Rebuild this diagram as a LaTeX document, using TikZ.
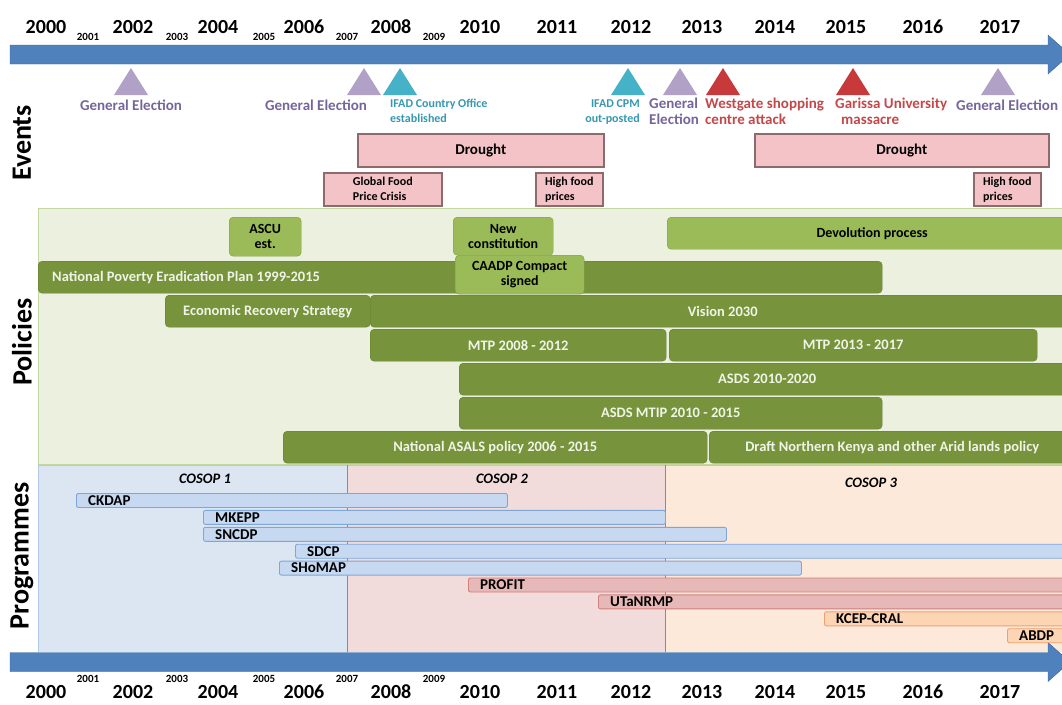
\documentclass[tikz,border=0pt]{standalone}
\usepackage{fontspec}
\setmainfont{Carlito}
\usetikzlibrary{positioning}
\definecolor{axisblue}{HTML}{4F81BD}
\definecolor{axisedge}{HTML}{3A679E}
\definecolor{electri}{HTML}{B2A1C7}
\definecolor{electxt}{HTML}{76659B}
\definecolor{ifadtri}{HTML}{45B2C8}
\definecolor{ifadtxt}{HTML}{3598AF}
\definecolor{attacktri}{HTML}{C8393B}
\definecolor{attacktxt}{HTML}{C4474A}
\definecolor{eventfill}{HTML}{F4C3C7}
\definecolor{eventedge}{HTML}{8E6A6D}
\definecolor{polbg}{HTML}{EBF1DE}
\definecolor{polframe}{HTML}{C5D7A0}
\definecolor{poldark}{HTML}{77933C}
\definecolor{poldarkedge}{HTML}{657E31}
\definecolor{pollight}{HTML}{9BBB59}
\definecolor{pollightedge}{HTML}{7E9E40}
\definecolor{poltext}{HTML}{F0F4E6}
\definecolor{cosopone}{HTML}{DCE6F2}
\definecolor{cosoptwo}{HTML}{F2DCDB}
\definecolor{cosopthree}{HTML}{FDE9D9}
\definecolor{cosopline}{HTML}{B47A78}
\definecolor{fillblue}{HTML}{C6D9F1}
\definecolor{edgeblue}{HTML}{7EA6D8}
\definecolor{fillpink}{HTML}{E6B9B8}
\definecolor{edgepink}{HTML}{D0807E}
\definecolor{fillpeach}{HTML}{FCD5B4}
\definecolor{edgepeach}{HTML}{F0A070}

\tikzset{
  bigyear/.style={font=\fontsize{20}{22}\selectfont\bfseries, inner sep=0pt},
  smallyear/.style={font=\fontsize{11}{12}\selectfont\bfseries, inner sep=0pt},
  rowtitle/.style={font=\fontsize{28}{30}\selectfont\bfseries, rotate=90, inner sep=0pt},
  evlabel/.style={font=\fontsize{15}{16}\selectfont\bfseries, align=left, inner sep=0pt},
  evsmall/.style={font=\fontsize{12}{15}\selectfont\bfseries, inner sep=0pt},
  evbox/.style={draw=eventedge, fill=eventfill, line width=1.6pt, inner sep=0pt, anchor=north west, minimum height=33},
  polbar/.style={draw=poldarkedge, fill=poldark, text=poltext, rounded corners=4pt, minimum height=32, inner sep=0pt, anchor=north west, font=\fontsize{14.5}{16}\selectfont\bfseries},
  polsoft/.style={polbar, draw=pollightedge, fill=pollight, text=black, align=center, font=\fontsize{14}{15}\selectfont\bfseries},
  progbar/.style={rounded corners=2pt, line width=0.9pt, minimum height=14, inner sep=0pt, anchor=west},
  proglabel/.style={font=\fontsize{15}{15}\selectfont\bfseries, inner sep=0pt, anchor=west},
  cosop/.style={font=\fontsize{14.5}{16}\selectfont\bfseries\itshape}
}

\begin{document}
\begin{tikzpicture}[x=1pt, y=-1pt]
	\useasboundingbox (0,0) rectangle (1062,704);
	\clip (0,0) rectangle (1062,704);
	% panels
	\draw[polframe, fill=polbg] (38,208.5) rectangle (1075,464);
	\fill[cosopone] (38,465) rectangle (347,652);
	\fill[cosoptwo] (347,465) rectangle (665,652);
	\fill[cosopthree] (665,465) rectangle (1075,652);
	\draw[edgeblue!60] (38,652) -- (38,465) -- (1075,465);
	\draw[cosopline] (347,465) -- (347,652) (665,465) -- (665,652);
	% time axes
	\foreach \y in {54.5,662}{
		\draw[axisedge, fill=axisblue] (10,\y-9.5) -- (1048,\y-9.5) -- (1048,\y-19.5) -- (1070,\y) -- (1048,\y+19.5) -- (1048,\y+9.5) -- (10,\y+9.5) -- cycle;
	}
	\foreach \yr/\x in {2000/46,2002/133,2004/218,2006/304,2008/391,2010/480,2011/557,2012/631,2013/702,2014/775,2015/846,2016/923,2017/1000}{
		\node[bigyear] (top\yr) at (\x,27) {\yr};
		\node[bigyear] (bot\yr) at (\x,692) {\yr};
	}
	\foreach \yr/\x in {2001/88,2003/177,2005/264,2007/347,2009/434}{
		\node[smallyear] (tops\yr) at (\x,37) {\yr};
		\node[smallyear] (bots\yr) at (\x,679) {\yr};
	}
	% row titles
	\node[rowtitle] (events) at (22,143) {Events};
	\node[rowtitle] (policies) at (22,342) {Policies};
	\node[rowtitle] (programmes) at (22,556) {Programmes};
	% events
	\foreach \x/\c in {131/electri,364/electri,680/electri,998/electri,400/ifadtri,628/ifadtri,723/attacktri,853/attacktri}{
		\fill[\c] (\x-17,95) -- (\x,68) -- (\x+17,95) -- cycle;
	}
	\node[evlabel, text=electxt] (electA) at (131,105) {General Election};
	\node[evlabel, text=electxt] (electB) at (316,105) {General Election};
	\node[evsmall, text=ifadtxt, align=left, anchor=north west] (ifadoffice) at (390,99) {IFAD Country Office\\established};
	\node[evsmall, text=ifadtxt, align=right, anchor=north east] (ifadcpm) at (640,99) {IFAD CPM\\out-posted};
	\node[evlabel, text=electxt, anchor=north west] (electC) at (649,98) {General\\Election};
	\node[evlabel, text=attacktxt, anchor=north west] (westgate) at (705,98) {Westgate shopping\\centre attack};
	\node[evlabel, text=attacktxt, anchor=north west] (garissa) at (835,98) {Garissa University\\\hspace*{6pt}massacre};
	\node[evlabel, text=electxt, anchor=west] (electD) at (956,105) {General Election};
	\node[evbox, minimum width=246, font=\fontsize{15}{16}\selectfont\bfseries] (droughtA) at (357,133) {Drought};
	\node[evbox, minimum width=294, font=\fontsize{15}{16}\selectfont\bfseries] (droughtB) at (754,133) {Drought};
	\node[evbox, minimum width=118, align=left, font=\fontsize{12}{15}\selectfont\bfseries] (foodcrisis) at (323,172) {Global Food\\Price Crisis};
	\node[evbox, minimum width=67, align=left, font=\fontsize{12}{15}\selectfont\bfseries] (pricesA) at (535,172) {High food\\prices};
	\node[evbox, minimum width=67, align=left, font=\fontsize{12}{15}\selectfont\bfseries] (pricesB) at (973,172) {High food\\prices};
	% policies
	\node[polsoft, minimum width=72, minimum height=39] (ascu) at (229,217) {ASCU\\est.};
	\node[polsoft, minimum width=100, minimum height=38] (constitution) at (453,217) {New\\constitution};
	\node[polsoft, minimum width=410] (devolution) at (667,217) {Devolution process};
	\node[polbar, minimum width=844] (npep) at (38,261) {};
	\node[polbar, draw=none, fill=none, anchor=west] (npeptext) at ([xshift=14]npep.west) {National Poverty Eradication Plan 1999-2015};
	\node[polsoft, minimum width=129, minimum height=39] (caadp) at (455,255) {CAADP Compact\\signed};
	\node[polbar, minimum width=205] (ers) at (165,295) {Economic Recovery Strategy};
	\node[polbar, minimum width=705] (vision) at (370,295) {Vision 2030};
	\node[polbar, minimum width=296] (mtpA) at (370,329) {MTP 2008 - 2012};
	\node[polbar, minimum width=368] (mtpB) at (669,329) {MTP 2013 - 2017};
	\node[polbar, minimum width=616] (asds) at (459,363) {ASDS 2010-2020};
	\node[polbar, minimum width=423] (mtip) at (459,397) {ASDS MTIP 2010 - 2015};
	\node[polbar, minimum width=424] (asals) at (283,431) {National ASALS policy 2006 - 2015};
	\node[polbar, minimum width=366] (aridlands) at (709,431) {Draft Northern Kenya and other Arid lands policy};
	% programmes
	\node[cosop] (cosopA) at (205,479) {COSOP 1};
	\node[cosop] (cosopB) at (502,479) {COSOP 2};
	\node[cosop] (cosopC) at (871,483) {COSOP 3};
	\foreach \id/\nm/\clr/\xa/\xb/\i in {ckdap/CKDAP/blue/76/507/0, mkepp/MKEPP/blue/203/665/1, sncdp/SNCDP/blue/203/726/2, sdcp/SDCP/blue/295/1075/3, shomap/SHoMAP/blue/279/801/4, profit/PROFIT/pink/468/1075/5, utanrmp/UTaNRMP/pink/598/1075/6, kcep/KCEP-CRAL/peach/824/1075/7, abdp/ABDP/peach/1007/1075/8}{
		\pgfmathsetmacro\yc{500.5+16.9*\i}
		\node[progbar, draw=edge\clr, fill=fill\clr, minimum width=\xb-\xa] (\id) at (\xa,\yc) {};
		\node[proglabel] (\id text) at ([xshift=12]\id.west) {\nm};
	}
\end{tikzpicture}
\end{document}
